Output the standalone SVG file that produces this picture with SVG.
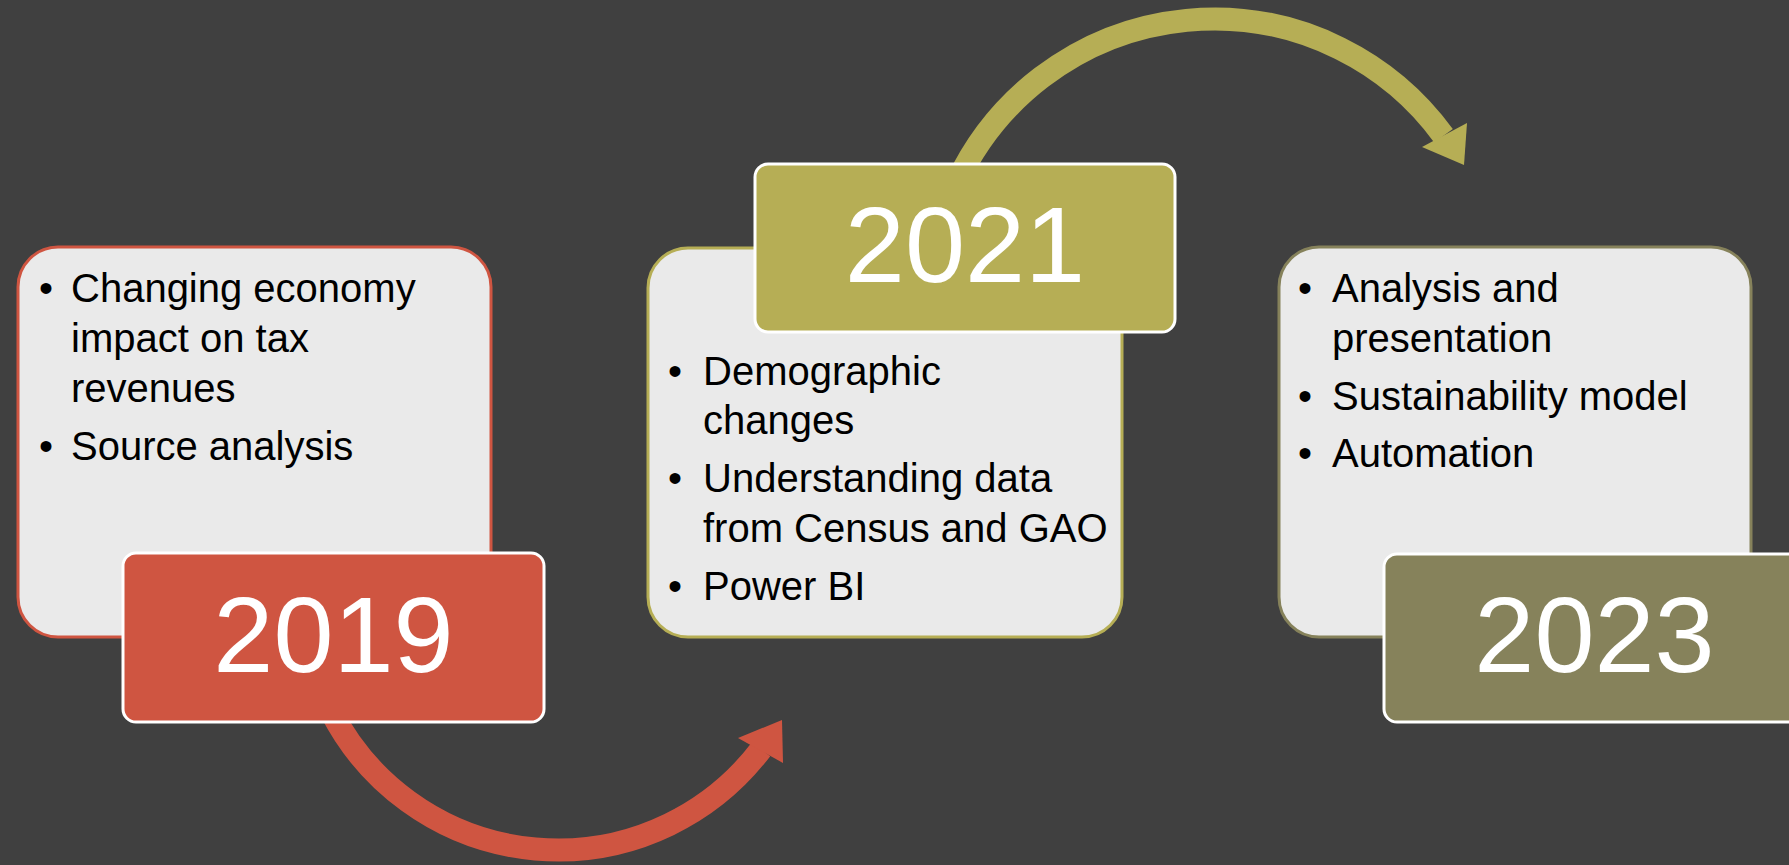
<svg xmlns="http://www.w3.org/2000/svg" width="1789" height="865" viewBox="0 0 1789 865">
<style>
.box{fill:#EAEAEA;stroke-width:3}
.lbl{stroke:#FFFFFF;stroke-width:3}
.yr{font-family:"Liberation Sans",Arial,sans-serif;font-size:108px;fill:#FFFFFF;text-anchor:middle}
.tx{font-family:"Liberation Sans",Arial,sans-serif;font-size:40px;fill:#000000}
.bl{text-anchor:middle}
.arc{fill:none;stroke-width:23}
</style>
<rect x="0" y="0" width="1789" height="865" fill="#404040"/>
<g id="connectors">
  <path class="arc" stroke="#CF5541" d="M 330.8 710.8 A 255 255 0 0 0 761.1 749.2"/>
  <polygon fill="#CF5541" points="782,720 738,738 783,763"/>
  <path class="arc" stroke="#B6AE55" d="M 956.6 183 A 284 284 0 0 1 1443.5 135.7"/>
  <polygon fill="#B6AE55" points="1464,165 1422,147 1467,123"/>
</g>
<g id="node-2019">
  <rect class="box" x="18" y="247" width="473" height="390" rx="40" stroke="#CF5541"/>
  <text class="tx bl" x="46" y="302">•</text>
  <text class="tx" x="71" y="302">Changing economy</text>
  <text class="tx" x="71" y="352">impact on tax</text>
  <text class="tx" x="71" y="402">revenues</text>
  <text class="tx bl" x="46" y="460">•</text>
  <text class="tx" x="71" y="460">Source analysis</text>
  <rect class="lbl" x="123" y="553" width="421" height="169" rx="13" fill="#CF5541"/>
  <text class="yr" x="333.5" y="672">2019</text>
</g>
<g id="node-2021">
  <rect class="box" x="648" y="248" width="474" height="389" rx="40" stroke="#B6AE55"/>
  <text class="tx bl" x="675" y="385">•</text>
  <text class="tx" x="703" y="385">Demographic</text>
  <text class="tx" x="703" y="434">changes</text>
  <text class="tx bl" x="675" y="492">•</text>
  <text class="tx" x="703" y="492">Understanding data</text>
  <text class="tx" x="703" y="542">from Census and GAO</text>
  <text class="tx bl" x="675" y="600">•</text>
  <text class="tx" x="703" y="600">Power BI</text>
  <rect class="lbl" x="755" y="164" width="420" height="168" rx="13" fill="#B6AE55"/>
  <text class="yr" x="965" y="282">2021</text>
</g>
<g id="node-2023">
  <rect class="box" x="1279" y="247" width="472" height="390" rx="40" stroke="#86825B"/>
  <text class="tx bl" x="1305" y="302">•</text>
  <text class="tx" x="1332" y="302">Analysis and</text>
  <text class="tx" x="1332" y="352">presentation</text>
  <text class="tx bl" x="1305" y="410">•</text>
  <text class="tx" x="1332" y="410">Sustainability model</text>
  <text class="tx bl" x="1305" y="467">•</text>
  <text class="tx" x="1332" y="467">Automation</text>
  <rect class="lbl" x="1384" y="554" width="421" height="168" rx="13" fill="#86825B"/>
  <text class="yr" x="1594.5" y="672">2023</text>
</g>
</svg>
